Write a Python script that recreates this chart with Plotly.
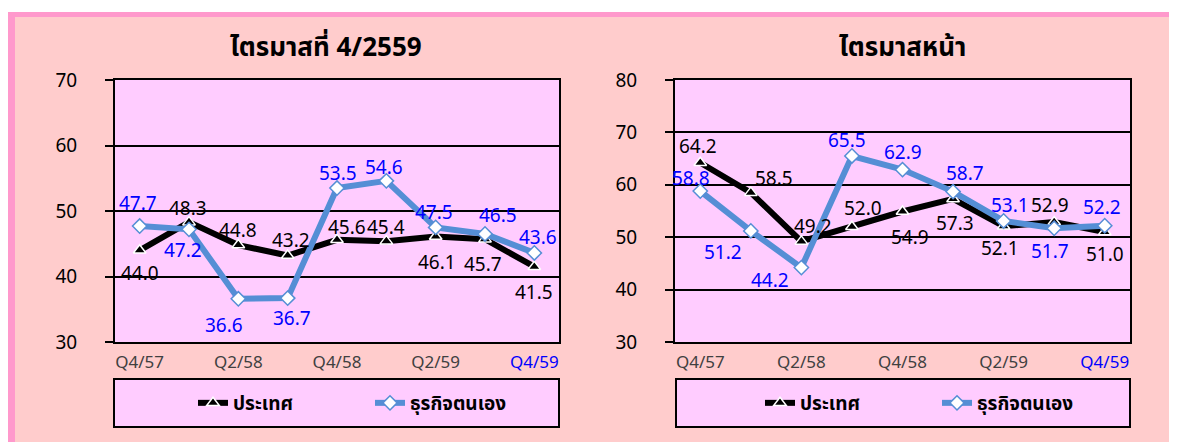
import plotly.graph_objects as go

# ---------------- data ----------------
categories = ["Q4/57", "Q1/58", "Q2/58", "Q3/58", "Q4/58", "Q1/59", "Q2/59", "Q3/59", "Q4/59"]
tick_categories = ["Q4/57", "Q2/58", "Q4/58", "Q2/59", "Q4/59"]

series_names = ["ประเทศ", "ธุรกิจตนเอง"]
titles = ["ไตรมาสที่ 4/2559", "ไตรมาสหน้า"]

current_country = [44.0, 48.3, 44.8, 43.2, 45.6, 45.4, 46.1, 45.7, 41.5]
current_business = [47.7, 47.2, 36.6, 36.7, 53.5, 54.6, 47.5, 46.5, 43.6]

next_country = [64.2, 58.5, 49.2, 52.0, 54.9, 57.3, 52.1, 52.9, 51.0]
next_business = [58.8, 51.2, 44.2, 65.5, 62.9, 58.7, 53.1, 51.7, 52.2]

left_yticks = [30, 40, 50, 60, 70]
right_yticks = [30, 40, 50, 60, 70, 80]

# ---------------- label offsets (px, style only) ----------------
off_cur_country = [(0, -23), (-1, 14), (0, 15), (3, 16), (10, 13), (0, 14), (1, -25), (-2, -25), (0, -25)]
off_cur_business = [(-2, 23), (-6, -21), (-14, -26), (4, -20), (1, 15), (-2, 14), (-2, 15), (13, 19), (4, 16)]
off_next_country = [(-2, 17), (23, 15), (12, 15), (11, 19), (7, -25), (2, -24), (-4, -22), (-4, 17), (0, -22)]
off_next_business = [(-9, 13), (-28, -21), (-31, -12), (-5, 16), (0, 18), (12, 19), (6, 16), (-4, -23), (-3, 19)]

W, H = 1177, 442
OFF = 8  # page body margin: figure is drawn at (8, 8) in the window
SALMON = "#FFCCCC"
PLOTBG = "#FFCCFF"
PINK = "#FF99CC"
BLUE_LINE = "#558ED5"
BLUE_TXT = "#0000FF"
FONT = "Tahoma, 'Noto Sans', 'Noto Sans Thai', sans-serif"


def px_x(v):
    return (v - OFF) / W


def px_y(v):
    return 1 - (v - OFF) / H


fig = go.Figure()

panels = [
    dict(xa="x", ya="y", country=current_country, business=current_business,
         oc=off_cur_country, ob=off_cur_business, legend="legend"),
    dict(xa="x2", ya="y2", country=next_country, business=next_business,
         oc=off_next_country, ob=off_next_business, legend="legend2"),
]

annotations = []
for p in panels:
    fig.add_trace(go.Scatter(
        x=categories, y=p["country"], name=f"<b>{series_names[0]}</b>", mode="lines+markers",
        xaxis=p["xa"], yaxis=p["ya"], legend=p["legend"],
        line=dict(color="black", width=6),
        marker=dict(symbol="triangle-up", size=11, color="black",
                    line=dict(color="white", width=1.5)),
        hoverinfo="skip"))
    fig.add_trace(go.Scatter(
        x=categories, y=p["business"], name=f"<b>{series_names[1]}</b>", mode="lines+markers",
        xaxis=p["xa"], yaxis=p["ya"], legend=p["legend"],
        line=dict(color=BLUE_LINE, width=6),
        marker=dict(symbol="diamond", size=11, color="white",
                    line=dict(color=BLUE_LINE, width=1.5)),
        hoverinfo="skip"))
    for vals, offs, col in ((p["country"], p["oc"], "black"), (p["business"], p["ob"], BLUE_TXT)):
        for c, v, (dx, dy) in zip(categories, vals, offs):
            annotations.append(dict(
                x=c, y=v, xref=p["xa"], yref=p["ya"], text=f"{v:.1f}",
                showarrow=False, xshift=dx, yshift=dy,
                font=dict(family=FONT, size=19, color=col)))

# titles
for tx, cx in zip(titles, (326, 902)):
    annotations.append(dict(x=px_x(cx), y=px_y(46), xref="paper", yref="paper", text=f"<b>{tx}</b>",
                            showarrow=False, xanchor="center", yanchor="middle",
                            font=dict(family=FONT, size=26, color="black")))

ticktext = [t if t != categories[-1] else f"<span style='color:{BLUE_TXT}'>{t}</span>"
            for t in tick_categories]

xaxis_common = dict(type="category", range=[-0.5, len(categories) - 0.5],
                    tickmode="array", tickvals=tick_categories, ticktext=ticktext,
                    showgrid=False, zeroline=False, showline=True, linecolor="black",
                    linewidth=2, mirror=True, ticks="", ticklabelstandoff=4,
                    automargin=False,
                    tickfont=dict(family=FONT, size=17, color="#404040"), fixedrange=True)
yaxis_common = dict(showgrid=True, gridcolor="black", gridwidth=2, zeroline=False,
                    showline=True, linecolor="black", linewidth=2, mirror=True,
                    ticks="outside", ticklen=8, tickwidth=2, tickcolor="black",
                    ticklabelstandoff=24, automargin=False,
                    tickfont=dict(family=FONT, size=19, color="black"), fixedrange=True)

yd = [px_y(342), px_y(80)]

shapes = [
    # white strip + pink frame
    dict(type="rect", xref="paper", yref="paper", x0=0, x1=1, y0=px_y(12), y1=1,
         fillcolor="white", line=dict(width=0), layer="below"),
    dict(type="rect", xref="paper", yref="paper", x0=0, x1=1, y0=px_y(17), y1=px_y(12),
         fillcolor=PINK, line=dict(width=0), layer="below"),
    dict(type="rect", xref="paper", yref="paper", x0=0, x1=px_x(15), y0=0, y1=px_y(12),
         fillcolor=PINK, line=dict(width=0), layer="below"),
    # legend boxes
    dict(type="rect", xref="paper", yref="paper", x0=px_x(114), x1=px_x(559), y0=px_y(427), y1=px_y(379),
         fillcolor=PLOTBG, line=dict(color="black", width=2), layer="below"),
    dict(type="rect", xref="paper", yref="paper", x0=px_x(676), x1=px_x(1130), y0=px_y(427), y1=px_y(379),
         fillcolor=PLOTBG, line=dict(color="black", width=2), layer="below"),
]

legend_common = dict(orientation="h", bgcolor="rgba(0,0,0,0)", borderwidth=0,
                     font=dict(family=FONT, size=19, color="black"),
                     yanchor="middle", xanchor="left", entrywidthmode="pixels",
                     entrywidth=132, itemclick=False, itemdoubleclick=False)

fig.update_layout(
    width=W, height=H, margin=dict(l=0, r=0, t=0, b=0, autoexpand=False),
    paper_bgcolor=SALMON, plot_bgcolor=PLOTBG,
    showlegend=True,
    xaxis=dict(domain=[px_x(115), px_x(559)], anchor="y", **xaxis_common),
    yaxis=dict(domain=yd, anchor="x", range=[30, 70], tickvals=left_yticks, **yaxis_common),
    xaxis2=dict(domain=[px_x(675), px_x(1130)], anchor="y2", **xaxis_common),
    yaxis2=dict(domain=yd, anchor="x2", range=[30, 80], tickvals=right_yticks, **yaxis_common),
    legend=dict(x=px_x(193), y=px_y(403), **legend_common),
    legend2=dict(x=px_x(760), y=px_y(403), **legend_common),
    annotations=annotations,
    shapes=shapes,
)

fig.write_html("out.html")
